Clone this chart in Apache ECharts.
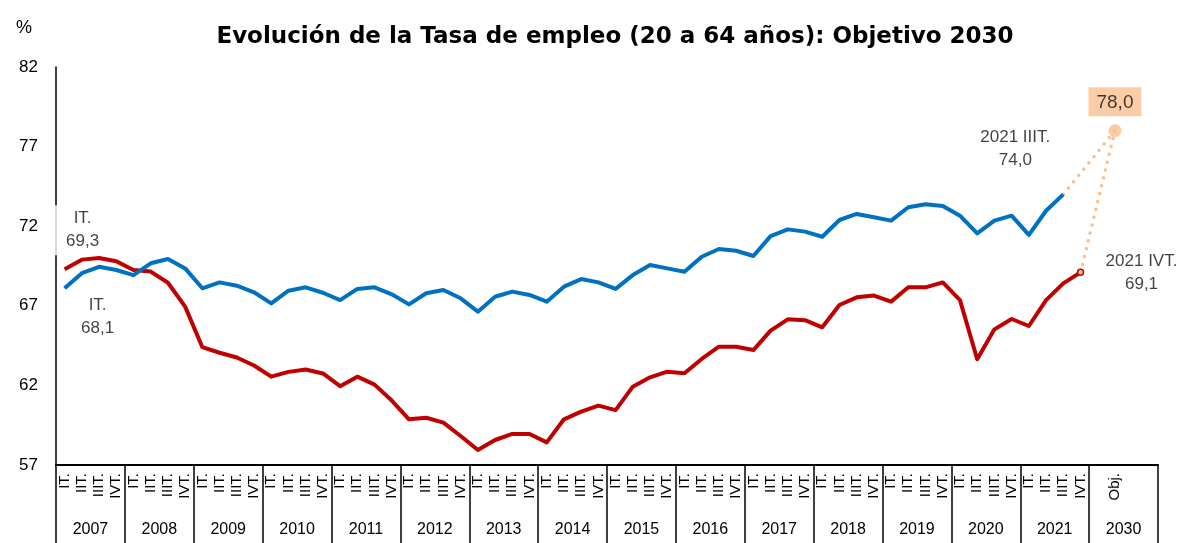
<!DOCTYPE html>
<html>
<head>
<meta charset="utf-8">
<title>Evolución de la Tasa de empleo</title>
<script src="https://cdn.jsdelivr.net/npm/echarts@6/dist/echarts.min.js"></script>
<style>
    html, body { margin: 0; padding: 0; background: #fff; }
    #chart { width: 1188px; height: 543px; }
</style>
</head>
<body>
<div id="chart"></div>
<script>
// Years shown on the lower level of the axis (last one is the 2030 target slot)
const years = ['2007', '2008', '2009', '2010', '2011', '2012', '2013', '2014',
               '2015', '2016', '2017', '2018', '2019', '2020', '2021', '2030'];
const quarterNames = ['IT.', 'IIT.', 'IIIT.', 'IVT.'];
const objSlot = ['', 'Obj.', '', ''];

// Employment rate 20-64, quarterly from 2007 IT
const spainRate = [
    69.3, 69.9, 70.0, 69.8,  69.25, 69.15, 68.45, 66.95,
    64.4, 64.05, 63.75, 63.25,  62.55, 62.85, 63.0, 62.75,
    61.95, 62.55, 62.05, 61.05,  59.87, 59.97, 59.66, 58.82,
    57.94, 58.57, 58.95, 58.95,  58.42, 59.87, 60.35, 60.73,
    60.45, 61.92, 62.51, 62.86,  62.76, 63.66, 64.43, 64.43,
    64.22, 65.44, 66.15, 66.1,  65.65, 67.05, 67.53, 67.64,
    67.26, 68.16, 68.16, 68.47,  67.36, 63.64, 65.52, 66.17,
    65.73, 67.36, 68.41, 69.1
];
const euRate = [
    68.1, 69.05, 69.45, 69.25,  68.93, 69.67, 69.94, 69.35,
    68.1, 68.47, 68.26, 67.85,  67.15, 67.95, 68.16, 67.82,
    67.36, 68.06, 68.16, 67.72,  67.09, 67.79, 67.99, 67.47,
    66.63, 67.57, 67.89, 67.68,  67.26, 68.2, 68.68, 68.47,
    68.06, 68.93, 69.56, 69.35,  69.14, 70.08, 70.57, 70.46,
    70.13, 71.38, 71.8, 71.66,  71.34, 72.39, 72.77, 72.56,
    72.35, 73.19, 73.38, 73.27,  72.66, 71.55, 72.35, 72.66,
    71.45, 72.97, 74.0
];
const target2030 = 78.0;
const targetIndex = 61;   // "Obj." position inside the 2030 slot

const yTicks = { min: 57, max: 82, interval: 5 };

// Build the quarter categories (4 per year, target slot at the end)
const quarters = [];
years.slice(0, -1).forEach(() => quarterNames.forEach(q => quarters.push(q)));
objSlot.forEach(q => quarters.push(q));

const RED = '#C00000';
const BLUE = '#0070C0';
const ORANGE = '#FAC090';
const FONT = 'Liberation Sans';

const chart = echarts.init(document.getElementById('chart'));

// Red series: last point gets the small circle where the dotted line starts
const spainData = spainRate.map((v, i) => i === spainRate.length - 1
    ? { value: v, symbol: 'circle', symbolSize: 6,
        itemStyle: { color: ORANGE, borderColor: RED, borderWidth: 1.5 } }
    : v);

// Dotted lines toward the 2030 target
function toTarget(series) {
    const data = quarters.map(() => null);
    const last = series.length - 1;
    data[last] = series[last];
    data[targetIndex] = target2030;
    return data;
}

const annoLabel = (text, dx, dy) => ({
    show: true, position: 'inside', offset: [dx, dy],
    formatter: text, color: '#111', fontFamily: FONT, fontSize: 17,
    lineHeight: 23, align: 'center'
});

const lastEu = euRate.length - 1;
const lastEs = spainRate.length - 1;

const option = {
    animation: false,
    title: [{
        text: 'Evolución de la Tasa de empleo (20 a 64 años): Objetivo 2030',
        left: 610, top: 21, textAlign: 'center',
        textStyle: { fontFamily: 'DejaVu Sans', fontWeight: 'bold', fontSize: 23, color: '#000' }
    }, {
        text: '%', left: 11, top: 14,
        textStyle: { fontFamily: FONT, fontWeight: 'normal', fontSize: 18, color: '#000' }
    }],
    grid: { left: 56, right: 30, top: 67, bottom: 78 },
    xAxis: [{
        type: 'category',
        data: quarters,
        boundaryGap: true,
        axisLine: { show: true, lineStyle: { color: '#000', width: 2 } },
        axisTick: { show: false },
        axisLabel: {
            interval: 0, rotate: 90, margin: 8,
            fontFamily: FONT, fontSize: 15, color: '#000'
        },
        splitLine: { show: false }
    }, {
        type: 'category',
        data: years,
        position: 'bottom',
        boundaryGap: true,
        axisLine: { show: false },
        axisTick: { show: true, length: 80, lineStyle: { color: '#000', width: 1.5 } },
        axisLabel: {
            interval: 0, margin: 57,
            fontFamily: FONT, fontSize: 16, color: '#000'
        },
        splitLine: { show: false }
    }],
    yAxis: {
        type: 'value',
        min: yTicks.min, max: yTicks.max, interval: yTicks.interval,
        axisLine: { show: true, lineStyle: { color: '#000', width: 1.5 } },
        axisTick: { show: false },
        splitLine: { show: false },
        axisLabel: { margin: 18, fontFamily: FONT, fontSize: 17, color: '#000' }
    },
    series: [
        {
            name: 'Obj. UE', type: 'line', data: toTarget(euRate), connectNulls: true,
            symbol: 'none', z: 1,
            lineStyle: { color: ORANGE, width: 3.5, type: [0.1, 8], cap: 'round' }
        },
        {
            name: 'Obj. España', type: 'line', data: toTarget(spainRate), connectNulls: true,
            symbol: 'none', z: 1,
            lineStyle: { color: ORANGE, width: 3.5, type: [0.1, 8], cap: 'round' }
        },
        {
            name: 'España', type: 'line', data: spainData, symbol: 'none',
            showSymbol: true, z: 3,
            lineStyle: { color: RED, width: 4, join: 'round' },
            itemStyle: { color: RED }
        },
        {
            name: 'UE-27', type: 'line', data: euRate, symbol: 'none', z: 3,
            lineStyle: { color: BLUE, width: 4, join: 'round' },
            itemStyle: { color: BLUE }
        },
        {
            // target point and its value box
            name: 'Objetivo', type: 'scatter', z: 4,
            data: [[targetIndex, target2030]],
            symbol: 'circle', symbolSize: 13,
            itemStyle: { color: ORANGE },
            label: {
                show: true, position: 'top', distance: 8,
                formatter: p => p.value[1].toFixed(1).replace('.', ','),
                backgroundColor: ORANGE, padding: [6, 8, 4, 8],
                color: '#111', fontFamily: FONT, fontSize: 19
            }
        },
        {
            // text annotations at first and last values
            name: 'Notas', type: 'scatter', z: 5, silent: true,
            symbolSize: 1, itemStyle: { color: 'rgba(0,0,0,0)' },
            data: [
                { value: [0, spainRate[0]],
                  label: Object.assign(annoLabel('IT.\n' + String(spainRate[0]).replace('.', ','), 18, -39),
                      { backgroundColor: '#fff', padding: [2, 14, 2, 14] }) },
                { value: [0, euRate[0]],
                  label: annoLabel('IT.\n' + String(euRate[0]).replace('.', ','), 33, 29) },
                { value: [lastEu, euRate[lastEu]],
                  label: annoLabel('2021 IIIT.\n' + euRate[lastEu].toFixed(1).replace('.', ','), -48, -46) },
                { value: [lastEs, spainRate[lastEs]],
                  label: annoLabel('2021 IVT.\n' + spainRate[lastEs].toFixed(1).replace('.', ','), 61, 0) }
            ]
        }
    ]
};

chart.setOption(option);
window.addEventListener('resize', () => chart.resize());
</script>
</body>
</html>
